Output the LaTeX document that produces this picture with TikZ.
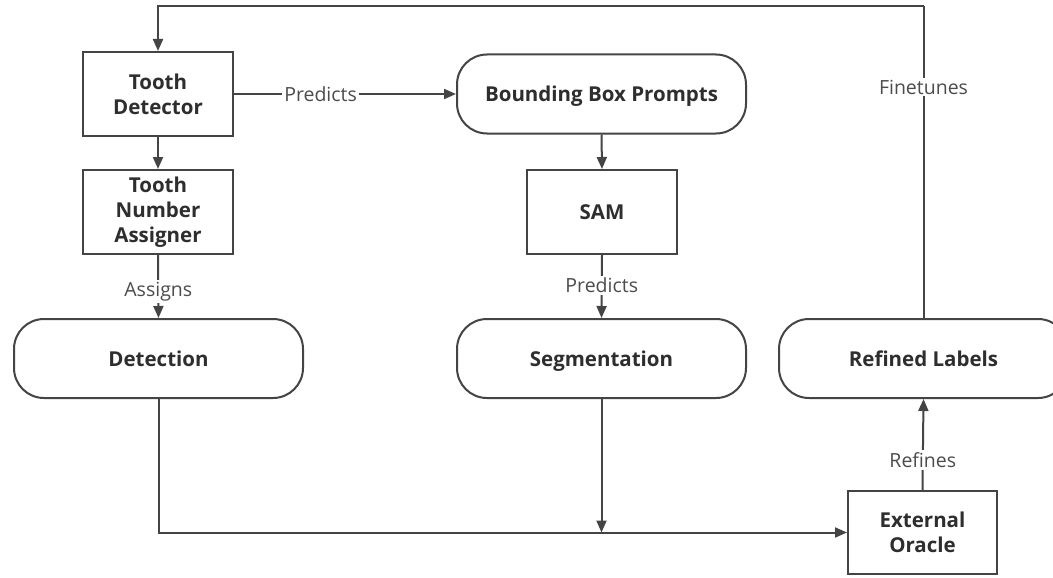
\documentclass[tikz,border=0pt]{standalone}
\usepackage{fontspec}
\setmainfont{Open Sans}
\usetikzlibrary{arrows.meta}
\definecolor{linegray}{HTML}{444444}
\definecolor{boldtext}{HTML}{2E2E2E}
\definecolor{labeltext}{HTML}{4C4C4C}
\tikzset{
  stage/.style={draw=linegray, line width=2pt, fill=white, align=center,
    minimum width=150pt, minimum height=84pt, inner sep=0pt, text=boldtext,
    font=\fontsize{20.5}{25}\selectfont\bfseries},
  term/.style={stage, rounded corners=30pt, minimum width=289pt, minimum height=79pt,
    text height=17.5pt, text depth=1.5pt},
  flow/.style={draw=linegray, line width=2pt, -{Triangle[length=12pt,width=10pt]}},
  plain/.style={draw=linegray, line width=2pt},
  tag/.style={fill=white, inner sep=2pt, text=labeltext,
    font=\fontsize{19.5}{22}\selectfont}
}
\begin{document}
\begin{tikzpicture}[x=1pt,y=-1pt]
  \useasboundingbox (0,0) rectangle (1053,578);
  \clip (0,0) rectangle (1053,578);

  % left column
  \node[stage] (det) at (158,94) {Tooth\\Detector};
  \node[stage] (num) at (158,212) {Tooth\\Number\\Assigner};
  \node[term]  (detection) at (158.5,358.5) {Detection};

  % middle column
  \node[term]  (bbp) at (601.5,94) {Bounding Box Prompts};
  \node[stage] (sam) at (602,212) {SAM};
  \node[term]  (seg) at (601.5,358.5) {Segmentation};

  % right column
  \node[term]  (refined) at (923.5,358.5) {Refined Labels};
  \node[stage, minimum width=149pt, minimum height=83pt] (oracle) at (922.5,532.5) {External\\Oracle};

  \coordinate (loop) at (0,6);

  % connectors
  \draw[flow] (det.east) -- node[tag, pos=0.39] {Predicts} (bbp.west);
  \draw[flow] (det.south) -- (num.north);
  \draw[flow] (num.south) -- node[tag, pos=0.58] {Assigns} (detection.north);
  \draw[flow] (bbp.south) -- (sam.north);
  \draw[flow] (sam.south) -- node[tag, pos=0.48] {Predicts} (seg.north);
  \draw[flow] (detection.south) |- (oracle.west);
  \draw[flow] (seg.south) -- (seg.south |- oracle.west);
  \draw[flow] (oracle.north) -- node[tag, pos=0.33] {Refines} (refined.south);
  \draw[plain] (refined.north) -- node[tag, pos=0.74] {Finetunes} (refined.north |- loop);
  \draw[flow] (refined.north |- loop) -| (det.north);
\end{tikzpicture}
\end{document}
